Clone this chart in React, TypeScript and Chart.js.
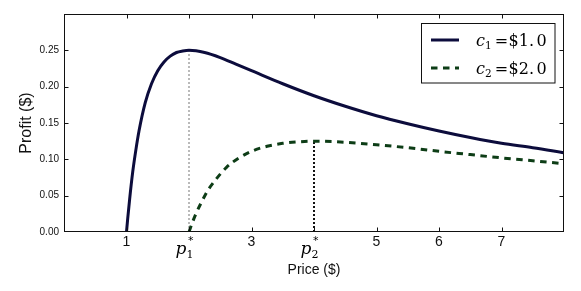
import React, { useEffect, useRef } from "react";
import { Chart, registerables } from "chart.js";

Chart.register(...registerables);

// ---- data ----
const priceC1 = [1.0, 1.02, 1.05, 1.1, 1.15, 1.2, 1.3, 1.4, 1.5, 1.6, 1.7, 1.8, 1.9, 2.0, 2.25, 2.5, 2.75, 3.0, 3.5, 4.0, 4.5, 5.0, 5.5, 6.0, 6.5, 7.0, 7.5, 8.0];
const profitC1 = [0, 0.019, 0.045, 0.083, 0.113, 0.139, 0.178, 0.204, 0.222, 0.234, 0.242, 0.247, 0.249, 0.25, 0.247, 0.24, 0.231, 0.222, 0.204, 0.1875, 0.173, 0.16, 0.149, 0.139, 0.13, 0.122, 0.116, 0.109];
const priceC2 = [2.0, 2.05, 2.1, 2.2, 2.3, 2.4, 2.6, 2.8, 3.0, 3.25, 3.5, 3.75, 4.0, 4.5, 5.0, 5.5, 6.0, 6.5, 7.0, 7.5, 8.0];
const profitC2 = [0, 0.012, 0.023, 0.041, 0.057, 0.069, 0.089, 0.102, 0.111, 0.118, 0.122, 0.124, 0.125, 0.1235, 0.12, 0.116, 0.111, 0.1065, 0.102, 0.098, 0.094];
const optimalPrices = [2, 4];
const maxProfits = [0.25, 0.125];
const costLabels = ["$1. 0", "$2. 0"];
const xTickValues = [1, 2, 3, 4, 5, 6, 7];
const xTickSpecial: Record<number, string> = { 2: "1", 4: "2" };
const xTitle = "Price ($)";
const yTitle = "Profit ($)";

const C1_COLOR = "#0c0c3c";
const C2_COLOR = "#0d3d16";
const C2_DASH = [6.5, 5.5];

const pts = (xs: number[], ys: number[]) => xs.map((x, i) => ({ x, y: ys[i] }));

const overlayPlugin = {
  id: "overlay",
  afterDraw(chart: any) {
    const { ctx, chartArea: a, scales } = chart;
    const xs = scales.x;
    const ys = scales.y;
    ctx.save();
    // frame
    ctx.strokeStyle = "#111";
    ctx.lineWidth = 1;
    ctx.setLineDash([]);
    const L = Math.round(a.left) + 0.5, T = Math.round(a.top) + 0.5;
    const R = Math.round(a.right) - 0.5, B = Math.round(a.bottom) - 0.5;
    ctx.strokeRect(L, T, R - L, B - T);
    // inward ticks
    const tl = 4;
    ctx.beginPath();
    xTickValues.forEach((v) => {
      const px = Math.round(xs.getPixelForValue(v)) + 0.5;
      ctx.moveTo(px, B); ctx.lineTo(px, B - tl);
      ctx.moveTo(px, T); ctx.lineTo(px, T + tl);
    });
    ys.ticks.forEach((t: any) => {
      if (t.value <= 0.0001 || t.value >= 0.29) return;
      const py = Math.round(ys.getPixelForValue(t.value)) + 0.5;
      ctx.moveTo(L, py); ctx.lineTo(L + tl, py);
      ctx.moveTo(R, py); ctx.lineTo(R - tl, py);
    });
    ctx.stroke();

    // p* tick labels
    ctx.fillStyle = "#000";
    ctx.textBaseline = "alphabetic";
    ctx.textAlign = "left";
    Object.keys(xTickSpecial).forEach((k) => {
      const v = Number(k);
      const px = xs.getPixelForValue(v);
      const x0 = px - 13.5;
      const base = 254;
      ctx.font = "italic 17px 'DejaVu Serif'";
      ctx.fillText("p", x0, base);
      const pw = ctx.measureText("p").width;
      ctx.font = "11px 'DejaVu Serif'";
      ctx.fillText(xTickSpecial[v], x0 + pw, base + 3.5);
      ctx.font = "11px 'DejaVu Sans'";
      ctx.fillText("*", x0 + pw + 1.5, base - 10);
    });

    // legend
    const bx = 421.5, by = 23.5, bw = 133.5, bh = 59.5;
    ctx.fillStyle = "#fff";
    ctx.fillRect(bx, by, bw, bh);
    ctx.strokeStyle = "#111";
    ctx.lineWidth = 1;
    ctx.strokeRect(bx, by, bw, bh);
    const rows = [
      { y: 40, color: C1_COLOR, dash: [] as number[], sub: "1", text: costLabels[0] },
      { y: 68, color: C2_COLOR, dash: C2_DASH, sub: "2", text: costLabels[1] },
    ];
    rows.forEach((r) => {
      ctx.strokeStyle = r.color;
      ctx.lineWidth = 3;
      ctx.setLineDash(r.dash);
      ctx.beginPath();
      ctx.moveTo(431, r.y);
      ctx.lineTo(459, r.y);
      ctx.stroke();
      ctx.setLineDash([]);
      ctx.fillStyle = "#000";
      const base = r.y + 5.5;
      let x = 476;
      ctx.font = "italic 16px 'DejaVu Serif'";
      ctx.fillText("c", x, base);
      x += ctx.measureText("c").width;
      ctx.font = "10.5px 'DejaVu Serif'";
      ctx.fillText(r.sub, x, base + 3);
      x += ctx.measureText(r.sub).width + 3;
      ctx.font = "16px 'DejaVu Serif'";
      ctx.fillText("=", x, base);
      x += ctx.measureText("=").width + 0.5;
      const [a1, a2] = r.text.split(" ");
      ctx.fillText(a1, x, base);
      x += ctx.measureText(a1).width + 2.5;
      ctx.fillText(a2, x, base);
    });
    ctx.restore();
  },
};

export default function App() {
  const ref = useRef<HTMLCanvasElement | null>(null);
  useEffect(() => {
    if (!ref.current) return;
    const chart = new Chart(ref.current, {
      type: "line",
      data: {
        datasets: [
          {
            label: "c1",
            data: pts(priceC1, profitC1),
            borderColor: C1_COLOR,
            borderWidth: 3,
            pointRadius: 0,
            cubicInterpolationMode: "monotone",
            fill: false,
          },
          {
            label: "c2",
            data: pts(priceC2, profitC2),
            borderColor: C2_COLOR,
            borderWidth: 3,
            borderDash: C2_DASH,
            pointRadius: 0,
            cubicInterpolationMode: "monotone",
            fill: false,
          },
          {
            label: "p1",
            data: pts([optimalPrices[0], optimalPrices[0]], [0, maxProfits[0]]),
            borderColor: "#777",
            borderWidth: 1,
            borderDash: [2, 2],
            pointRadius: 0,
            fill: false,
          },
          {
            label: "p2",
            data: pts([optimalPrices[1], optimalPrices[1]], [0, maxProfits[1]]),
            borderColor: "#111",
            borderWidth: 2,
            borderDash: [2, 2],
            pointRadius: 0,
            fill: false,
          },
        ],
      },
      options: {
        animation: false,
        responsive: false,
        devicePixelRatio: 1,
        layout: { padding: { left: 0, top: 14, right: 17, bottom: 0 } },
        plugins: { legend: { display: false }, tooltip: { enabled: false } },
        scales: {
          x: {
            type: "linear",
            min: 0,
            max: 8,
            grid: { display: false, drawTicks: false },
            border: { display: false },
            ticks: {
              stepSize: 1,
              autoSkip: false,
              maxRotation: 0,
              padding: 2,
              color: "#111",
              font: { family: "'Liberation Sans', Arial, sans-serif", size: 14 },
              callback: (v: any) => {
                const n = Number(v);
                if (n <= 0 || n >= 8 || xTickSpecial[n]) return "";
                return String(n);
              },
            },
            title: {
              display: true,
              text: xTitle,
              color: "#111",
              font: { family: "'Liberation Sans', Arial, sans-serif", size: 14 },
              padding: { top: 0, bottom: 12.5 },
            },
            afterFit: (s: any) => { s.height = 59; },
          },
          y: {
            type: "linear",
            min: 0,
            max: 0.3,
            grid: { display: false, drawTicks: false },
            border: { display: false },
            ticks: {
              stepSize: 0.05,
              padding: 5,
              color: "#111",
              font: { family: "'Liberation Sans', Arial, sans-serif", size: 10 },
              callback: (v: any) => (Number(v) > 0.27 ? "" : Number(v).toFixed(2)),
            },
            title: {
              display: true,
              text: yTitle,
              color: "#111",
              font: { family: "'Liberation Sans', Arial, sans-serif", size: 16 },
              padding: { top: 17, bottom: 0 },
            },
            afterFit: (s: any) => { s.width = 64; },
          },
        },
      },
      plugins: [overlayPlugin],
    });
    return () => chart.destroy();
  }, []);
  return (
    <div style={{ position: "absolute", left: 0, top: 0, width: 581, height: 291, background: "#fff" }}>
      <canvas ref={ref} width={581} height={291} />
    </div>
  );
}
